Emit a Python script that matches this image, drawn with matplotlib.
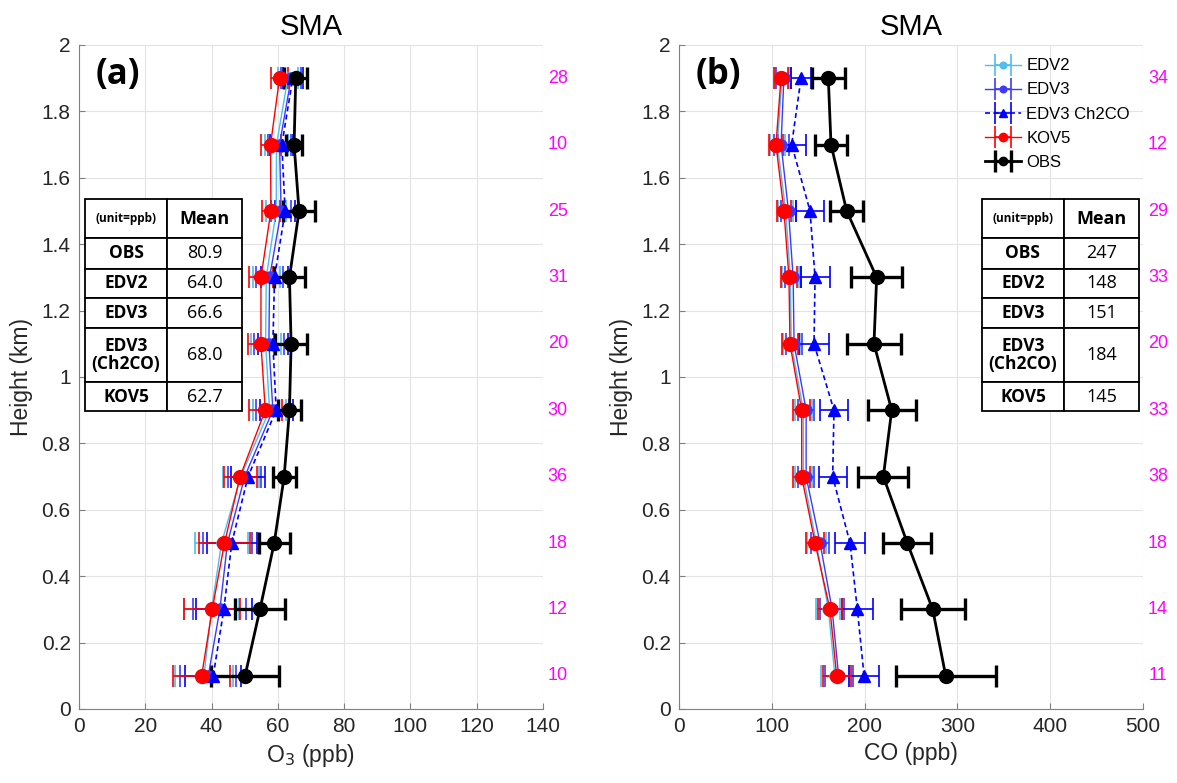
import matplotlib
matplotlib.use('Agg')
import matplotlib.pyplot as plt
import matplotlib.patches as patches

# --- CONFIGURATION ---
W, H = 1177, 783
DPI = 100
AX_FONT = 'Liberation Sans'
TAB_FONT = 'Open Sans'
GREY = '#262626'
MAGENTA = '#FF00FF'

# --- DATA (heights bottom -> top) ---
heights = [0.1, 0.3, 0.5, 0.7, 0.9, 1.1, 1.3, 1.5, 1.7, 1.9]

# O3 (ppb)
o3_obs = [50.1, 54.6, 58.9, 61.9, 63.5, 64.0, 63.5, 66.4, 64.9, 65.4]
o3_obs_err = [10.2, 7.6, 4.7, 3.5, 3.4, 4.9, 4.8, 4.9, 2.5, 3.5]
o3_kov5 = [37.0, 40.2, 43.9, 48.6, 56.2, 54.9, 54.9, 57.9, 57.8, 60.5]
o3_kov5_err = [8.7, 8.4, 7.7, 5.0, 5.0, 4.0, 3.6, 2.6, 3.0, 2.5]
o3_edv2 = [37.7, 40.0, 43.0, 48.8, 57.5, 56.3, 56.5, 59.5, 59.6, 63.0]
o3_edv2_err = [8.7, 8.3, 8.0, 5.5, 5.0, 4.5, 4.0, 3.0, 3.5, 3.0]
o3_edv3 = [39.0, 42.5, 44.8, 50.0, 58.5, 57.3, 57.5, 61.0, 60.5, 64.0]
o3_edv3_err = [8.5, 8.0, 7.5, 5.0, 5.0, 4.5, 4.0, 3.0, 3.5, 3.0]
o3_ch2co = [40.5, 43.7, 46.1, 51.0, 59.5, 58.5, 59.0, 62.2, 61.2, 64.5]
o3_ch2co_err = [8.5, 8.5, 7.5, 5.0, 5.0, 4.5, 4.0, 3.0, 3.5, 3.0]
o3_counts = [10, 12, 18, 36, 30, 20, 31, 25, 10, 28]

# CO (ppb)
co_obs = [287.4, 273.4, 246.0, 220.2, 229.2, 210.1, 213.0, 180.7, 163.8, 160.9]
co_obs_err = [54, 34.3, 26, 27, 26, 29, 27.5, 18, 17, 18]
co_kov5 = [169.9, 162.7, 146.6, 132.2, 132.2, 119.6, 118.5, 113.1, 104.5, 109.9]
co_kov5_err = [15, 13, 10, 9, 9, 9, 9, 8, 8, 8]
co_edv2 = [168, 161, 148, 134, 134, 121, 120, 115, 106, 111]
co_edv2_err = [15, 13, 10, 9, 9, 9, 9, 8, 8, 8]
co_edv3 = [172, 165, 152, 137, 137, 124, 123, 118, 110, 113]
co_edv3_err = [15, 13, 10, 9, 9, 9, 9, 8, 8, 8]
co_ch2co = [199.4, 192.2, 184.3, 165.6, 167.0, 145.5, 146.6, 141.2, 121.4, 131.5]
co_ch2co_err = [16, 16.7, 16, 15, 14.7, 16, 15.6, 15, 15, 11]
co_counts = [11, 14, 18, 38, 33, 20, 33, 29, 12, 34]

# mean table values
table_rows = ['OBS', 'EDV2', 'EDV3', 'EDV3\n(Ch2CO)', 'KOV5']
o3_means = ['80.9', '64.0', '66.6', '68.0', '62.7']
co_means = ['247', '148', '151', '184', '145']

# series styles: label, colour, marker, marker size, line style, line width
STYLES = [
    ('EDV2', '#4DBEEE', 'o', 8, '-', 1.0),
    ('EDV3', '#3B3BFF', 'o', 8, '-', 1.0),
    ('EDV3 Ch2CO', '#0000FF', '^', 9, (0, (3, 2)), 1.2),
    ('KOV5', '#FF0000', 'o', 10, '-', 1.0),
    ('OBS', '#000000', 'o', 10, '-', 2.0),
]


def px_x(x):
    return x / W


def px_y(y):
    return 1 - y / H


def style_axes(ax, xmax, xstep, xlabel):
    ax.set_xlim(0, xmax)
    ax.set_ylim(0, 2)
    ax.set_xticks(range(0, xmax + 1, xstep))
    ax.set_yticks([i * 0.2 for i in range(11)])
    ax.set_yticklabels(['%g' % round(i * 0.2, 1) for i in range(11)])
    ax.grid(True, color='#e3e3e3', lw=0.8)
    ax.set_axisbelow(True)
    for s in ['top', 'right']:
        ax.spines[s].set_visible(False)
    for s in ['left', 'bottom']:
        ax.spines[s].set_color('#808080')
        ax.spines[s].set_linewidth(0.8)
    ax.tick_params(direction='in', length=4, colors='#808080',
                   labelcolor=GREY, labelsize=15, pad=6)
    for lab in ax.get_xticklabels() + ax.get_yticklabels():
        lab.set_family(AX_FONT)
    ax.set_xlabel(xlabel, fontsize=16.5, family=AX_FONT, color=GREY, labelpad=4)
    ax.set_ylabel('Height (km)', fontsize=16.5, family=AX_FONT, color=GREY, labelpad=6)
    ax.set_title('SMA', fontsize=21, family=AX_FONT, color='black', pad=7)


def draw_profiles(ax, series):
    handles = []
    for (label, color, marker, ms, ls, lw), (vals, errs) in zip(STYLES, series):
        thick = lw + 0.4 if label == 'OBS' else 1.2
        eb = ax.errorbar(vals, heights, xerr=errs, color=color, marker=marker,
                         markersize=ms, linestyle=ls, linewidth=lw,
                         elinewidth=thick, capsize=8, capthick=thick,
                         label=label)
        handles.append(eb)
    return handles


def draw_counts(ax, counts):
    for h, n in zip(heights, counts):
        ax.text(1.032, h, str(n), transform=ax.get_yaxis_transform(),
                ha='center', va='center', color=MAGENTA, fontsize=13,
                family=AX_FONT, clip_on=False)


def draw_table(fig, xs, ys, values):
    """Mean table drawn in figure pixel coordinates"""
    x0, x1, x2 = xs
    for i in range(len(ys) - 1):
        top, bot = ys[i], ys[i + 1]
        for a, b in [(x0, x1), (x1, x2)]:
            rect = patches.Rectangle((px_x(a), px_y(bot)), (b - a) / W, (bot - top) / H,
                                     transform=fig.transFigure, lw=1.3,
                                     ec='black', fc='white', zorder=5)
            fig.add_artist(rect)
        cy = px_y((top + bot) / 2)
        if i == 0:
            fig.text(px_x((x0 + x1) / 2), cy, '(unit=ppb)', ha='center', va='center',
                     fontsize=8.5, fontweight='bold', family=TAB_FONT, zorder=6)
            fig.text(px_x((x1 + x2) / 2), cy, 'Mean', ha='center', va='center',
                     fontsize=13, fontweight='bold', family=TAB_FONT, zorder=6)
        else:
            fig.text(px_x((x0 + x1) / 2), cy, table_rows[i - 1], ha='center', va='center',
                     fontsize=12.5, fontweight='bold', family=TAB_FONT, zorder=6,
                     linespacing=1.05)
            fig.text(px_x((x1 + x2) / 2), cy, values[i - 1], ha='center', va='center',
                     fontsize=13, family=TAB_FONT, zorder=6)


fig = plt.figure(figsize=(W / DPI, H / DPI), dpi=DPI)
fig.patch.set_facecolor('white')

ax_a = fig.add_axes([px_x(79), px_y(709), 464 / W, 664 / H])
ax_b = fig.add_axes([px_x(679), px_y(709), 464 / W, 664 / H])

# --- panel (a): O3 ---
draw_profiles(ax_a, [(o3_edv2, o3_edv2_err), (o3_edv3, o3_edv3_err),
                     (o3_ch2co, o3_ch2co_err), (o3_kov5, o3_kov5_err),
                     (o3_obs, o3_obs_err)])
style_axes(ax_a, 140, 20, r'O$_3$ (ppb)')
draw_counts(ax_a, o3_counts)
ax_a.text(0.036, 0.955, '(a)', transform=ax_a.transAxes, ha='left', va='center',
          fontsize=25, fontweight='bold', family=TAB_FONT)

# --- panel (b): CO ---
hs = draw_profiles(ax_b, [(co_edv2, co_edv2_err), (co_edv3, co_edv3_err),
                          (co_ch2co, co_ch2co_err), (co_kov5, co_kov5_err),
                          (co_obs, co_obs_err)])
style_axes(ax_b, 500, 100, 'CO (ppb)')
draw_counts(ax_b, co_counts)
ax_b.text(0.036, 0.955, '(b)', transform=ax_b.transAxes, ha='left', va='center',
          fontsize=25, fontweight='bold', family=TAB_FONT)

leg = ax_b.legend(handles=hs, loc='upper left', bbox_to_anchor=(0.63, 1.0),
                  frameon=False, handlelength=2.2, handletextpad=0.3,
                  labelspacing=0.55, borderpad=0.3, markerscale=0.6,
                  prop={'family': AX_FONT, 'size': 12})

# --- mean tables ---
row_edges = [199, 238, 269, 298, 328, 382, 411]
draw_table(fig, (85, 167, 242), row_edges, o3_means)
draw_table(fig, (982, 1064, 1139), row_edges, co_means)

fig.savefig('out.png', dpi=DPI)
